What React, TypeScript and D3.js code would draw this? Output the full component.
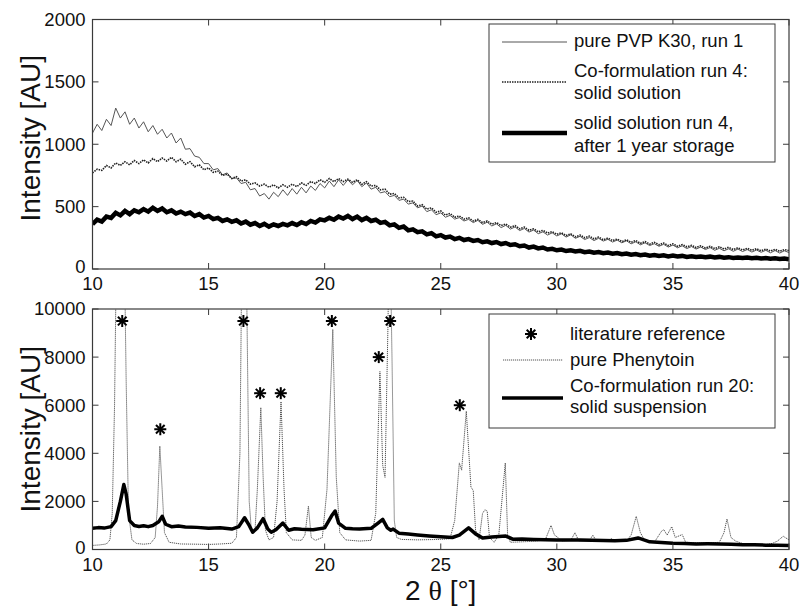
import React from "react";
import * as d3 from "d3";

// ---------- DATA ----------
// Top panel: 2θ grid 10..40 step 0.2
const topAngles: number[] = d3.range(0, 151).map((i) => 10 + i * 0.2);
const pvpK30: number[] = [
  1090, 1160, 1110, 1200, 1150, 1290, 1210, 1260, 1160, 1210,
  1130, 1180, 1100, 1150, 1080, 1120, 1050, 1090, 1010, 1050,
  960, 965, 905, 895, 845, 845, 795, 805, 755, 770,
  725, 730, 685, 695, 635, 645, 585, 605, 560, 615,
  580, 635, 590, 645, 600, 655, 610, 665, 630, 685,
  650, 705, 660, 715, 670, 715, 675, 710, 660, 690,
  640, 655, 610, 620, 580, 590, 550, 560, 520, 530,
  490, 505, 460, 475, 435, 450, 415, 430, 400, 412,
  385, 398, 372, 390, 358, 375, 345, 362, 332, 350,
  320, 337, 308, 325, 296, 312, 283, 298, 272, 290,
  265, 282, 256, 274, 246, 262, 236, 252, 228, 246,
  224, 238, 216, 232, 210, 226, 202, 218, 194, 210,
  188, 203, 182, 198, 176, 192, 170, 186, 164, 180,
  160, 176, 156, 172, 150, 166, 146, 162, 142, 160,
  140, 156, 136, 152, 134, 150, 130, 148, 128, 146,
  132,
];
const coFormRun4: number[] = [
  770, 800, 790, 830, 810, 850, 830, 860, 835, 870,
  845, 875, 850, 885, 860, 890, 865, 895, 860, 880,
  840, 860, 820, 835, 795, 810, 775, 785, 750, 760,
  725, 740, 705, 715, 680, 690, 665, 680, 655, 675,
  650, 675, 655, 680, 660, 690, 670, 700, 685, 715,
  695, 725, 700, 725, 700, 720, 695, 715, 680, 700,
  665, 670, 635, 640, 600, 605, 570, 575, 540, 545,
  505, 515, 480, 490, 455, 465, 432, 445, 415, 425,
  400, 410, 385, 398, 372, 385, 360, 372, 348, 360,
  336, 348, 322, 336, 310, 322, 298, 310, 288, 300,
  278, 290, 268, 282, 258, 272, 250, 264, 242, 256,
  234, 248, 228, 240, 220, 234, 214, 228, 206, 220,
  200, 214, 194, 208, 188, 202, 182, 196, 178, 190,
  172, 186, 168, 182, 164, 178, 160, 174, 156, 170,
  152, 166, 150, 162, 146, 160, 144, 158, 142, 156,
  148,
];
const afterStorage: number[] = [
  360, 395, 380, 420, 410, 450, 430, 465, 440, 470,
  455, 480, 460, 490, 465, 485, 455, 470, 445, 460,
  440, 452, 425, 440, 412, 425, 400, 410, 385, 398,
  378, 390, 365, 380, 355, 368, 345, 362, 340, 358,
  345, 362, 350, 368, 352, 375, 360, 385, 372, 398,
  390, 410, 395, 420, 405, 425, 400, 420, 392, 410,
  385, 395, 370, 378, 350, 358, 330, 340, 310, 318,
  295, 302, 278, 288, 262, 272, 252, 260, 240, 250,
  232, 240, 225, 232, 215, 222, 208, 216, 200, 208,
  192, 198, 182, 188, 172, 180, 165, 172, 156, 162,
  150, 156, 144, 150, 140, 146, 135, 140, 130, 136,
  126, 132, 122, 128, 118, 124, 114, 120, 110, 116,
  107, 112, 104, 110, 101, 108, 100, 105, 97, 102,
  96, 100, 94, 99, 92, 97, 91, 95, 89, 93,
  88, 92, 86, 90, 84, 88, 82, 86, 80, 84,
  78,
];

// Bottom panel
const phenytoinAngles: number[] = [
  10.0, 10.3, 10.6, 10.75, 10.85, 10.95, 11.05, 11.2, 11.35, 11.45, 11.55, 11.7, 11.9, 12.2, 12.5, 12.7,
  12.8, 12.9, 13.0, 13.1, 13.3, 13.8, 14.5, 15.0, 15.5, 16.0, 16.2, 16.35, 16.45, 16.55, 16.65, 16.75,
  16.85, 17.0, 17.1, 17.25, 17.35, 17.45, 17.6, 17.8, 17.95, 18.12, 18.25, 18.35, 18.6, 19.0, 19.15,
  19.3, 19.42, 19.6, 19.9, 20.1, 20.35, 20.5, 20.65, 20.9, 21.5, 22.0, 22.2, 22.38, 22.5, 22.6, 22.72,
  22.8, 22.9, 23.0, 23.1, 23.3, 24.0, 25.0, 25.4, 25.6, 25.8, 25.9, 26.1, 26.3, 26.4, 26.5, 26.65, 26.8,
  26.9, 27.0, 27.1, 27.3, 27.5, 27.65, 27.78, 27.88, 28.0, 28.5, 29.0, 29.5, 29.75, 29.9, 30.05, 30.2,
  30.6, 30.78, 30.95, 31.4, 31.55, 31.7, 32.2, 32.35, 32.5, 33.0, 33.2, 33.42, 33.6, 33.8, 34.2, 34.5,
  34.6, 34.75, 34.95, 35.1, 35.4, 35.55, 36.0, 36.5, 37.0, 37.2, 37.33, 37.5, 37.7, 38.0, 38.5, 39.0,
  39.3, 39.5, 39.75, 40.0,
];
const phenytoin: number[] = [
  170, 190, 230, 400, 1500, 6000, 14000, 20000, 14000, 7000, 1500, 400, 250, 220, 250, 500,
  1800, 4300, 2500, 700, 300, 230, 220, 210, 230, 260, 500, 4000, 14000, 16000, 10000, 2000,
  700, 800, 2500, 5900, 3000, 800, 400, 500, 2000, 6150, 2500, 700, 400, 380, 600,
  1800, 500, 380, 500, 2500, 9150, 3000, 700, 400, 350, 380, 1500, 7400, 3500, 3000, 9000,
  14000, 8000, 1200, 500, 420, 400, 420, 450, 1200, 3600, 3300, 5750, 2600, 2450, 800, 400, 1500,
  1650, 1600, 500, 300, 600, 2200, 3600, 600, 300, 320, 340, 400, 1000, 600, 500, 350,
  380, 700, 350, 360, 600, 350, 350, 450, 330, 350, 600, 1380, 700, 350, 300, 750,
  830, 600, 950, 500, 620, 300, 280, 270, 300, 700, 1270, 500, 350, 250, 200, 200,
  260, 350, 550, 400,
];
const suspensionAngles: number[] = [
  10.0, 10.25, 10.5, 10.8, 11.0, 11.2, 11.35, 11.45, 11.6, 11.8, 12.0, 12.2, 12.4, 12.6, 12.85, 13.0,
  13.15, 13.4, 13.7, 14.0, 14.5, 15.0, 15.5, 16.0, 16.3, 16.55, 16.75, 16.9, 17.1, 17.35, 17.55, 17.7,
  17.9, 18.2, 18.45, 18.7, 19.0, 19.5, 20.0, 20.3, 20.45, 20.6, 20.9, 21.2, 21.5, 22.0, 22.3, 22.5, 22.7,
  22.85, 22.95, 23.2, 23.6, 24.0, 24.5, 25.0, 25.5, 25.8, 26.2, 26.5, 26.8, 27.2, 27.8, 28.1, 28.5, 29.0,
  29.5, 30.0, 30.5, 31.0, 31.5, 32.0, 32.5, 33.0, 33.5, 34.0, 34.5, 35.0, 35.5, 36.0, 36.5, 37.0, 37.5,
  38.0, 38.5, 39.0, 39.5, 40.0,
];
const suspension: number[] = [
  880, 910, 890, 950, 1200, 2000, 2700, 2300, 1200, 1000, 960, 990, 950, 1000, 1150, 1380,
  1050, 950, 980, 940, 920, 880, 900, 850, 950, 1320, 1000, 720, 900, 1280, 850, 720,
  820, 1100, 800, 860, 840, 820, 900, 1400, 1600, 1100, 880, 860, 850, 880, 1100, 1250, 900,
  800, 850, 680, 640, 600, 560, 530, 500, 600, 900, 650, 480, 520, 560, 430, 440, 420,
  410, 400, 395, 390, 380, 370, 365, 380, 480, 320, 290, 260, 250, 230, 235, 230, 215,
  200, 195, 180, 175, 170,
];
const refAngles: number[] = [11.28, 12.92, 16.5, 17.22, 18.11, 20.31, 22.33, 22.82, 25.82];
const refIntensity: number[] = [9500, 5000, 9500, 6500, 6500, 9500, 8000, 9500, 6000];

const xTicks: number[] = [10, 15, 20, 25, 30, 35, 40];
const yTicksTop: number[] = [0, 500, 1000, 1500, 2000];
const yTicksBottom: number[] = [0, 2000, 4000, 6000, 8000, 10000];

const topLegend: string[][] = [
  ["pure PVP K30, run 1"],
  ["Co-formulation run 4:", "solid solution"],
  ["solid solution run 4,", "after 1 year storage"],
];
const bottomLegend: string[][] = [
  ["literature reference"],
  ["pure Phenytoin"],
  ["Co-formulation run 20:", "solid suspension"],
];

// ---------- LAYOUT ----------
const W = 804;
const H = 608;
const X0 = 92.5;
const X1 = 789;
const TOP = { y0: 19.5, y1: 269 };
const BOT = { y0: 309, y1: 549.5 };
const FONT = "Liberation Sans, Arial, sans-serif";
const AXIS_COLOR = "#3a3a3a";

const x = d3.scaleLinear().domain([10, 40]).range([X0, X1]);
const yTop = d3.scaleLinear().domain([0, 2000]).range([TOP.y1, TOP.y0]);
const yBot = d3.scaleLinear().domain([0, 10000]).range([BOT.y1, BOT.y0]);

function Axes({ y, ticks, y0, y1 }: { y: d3.ScaleLinear<number, number>; ticks: number[]; y0: number; y1: number }) {
  const tl = 6;
  return (
    <g>
      <rect x={X0} y={y0} width={X1 - X0} height={y1 - y0} fill="none" stroke={AXIS_COLOR} strokeWidth={1.2} />
      {xTicks.map((t) => (
        <g key={"x" + t}>
          <line x1={x(t)} x2={x(t)} y1={y1} y2={y1 - tl} stroke={AXIS_COLOR} strokeWidth={1} />
          <line x1={x(t)} x2={x(t)} y1={y0} y2={y0 + tl} stroke={AXIS_COLOR} strokeWidth={1} />
          <text x={x(t)} y={y1 + 21} textAnchor="middle" fontSize={18.5} fontFamily={FONT} fill="#111">
            {t}
          </text>
        </g>
      ))}
      {ticks.map((t) => (
        <g key={"y" + t}>
          <line x1={X0} x2={X0 + tl} y1={y(t)} y2={y(t)} stroke={AXIS_COLOR} strokeWidth={1} />
          <line x1={X1} x2={X1 - tl} y1={y(t)} y2={y(t)} stroke={AXIS_COLOR} strokeWidth={1} />
          <text x={X0 - 7} y={y(t) - (t === 0 ? 2 : 0)} dy="0.35em" textAnchor="end" fontSize={18.5} fontFamily={FONT} fill="#111">
            {t}
          </text>
        </g>
      ))}
    </g>
  );
}

function Asterisk({ cx, cy, r, sw }: { cx: number; cy: number; r: number; sw: number }) {
  const d = r * 0.72;
  return (
    <g stroke="#000" strokeWidth={sw}>
      <line x1={cx - r} x2={cx + r} y1={cy} y2={cy} />
      <line x1={cx} x2={cx} y1={cy - r} y2={cy + r} />
      <line x1={cx - d} x2={cx + d} y1={cy - d} y2={cy + d} />
      <line x1={cx - d} x2={cx + d} y1={cy + d} y2={cy - d} />
    </g>
  );
}

export default function App() {
  const lineTop = (vals: number[]) =>
    d3
      .line<number>()
      .x((_, i) => x(topAngles[i]))
      .y((v) => yTop(v))(vals) || "";
  const lineBot = (angles: number[], vals: number[]) =>
    d3
      .line<number>()
      .x((_, i) => x(angles[i]))
      .y((v) => yBot(v))(vals) || "";

  const legendText = (lines: string[], ty: number[]) =>
    lines.map((s, i) => (
      <text key={s} x={574} y={ty[i]} dy="0.35em" fontSize={18.5} fontFamily={FONT} fill="#111">
        {s}
      </text>
    ));

  return (
    <svg width={W} height={H} style={{ position: "absolute", left: 0, top: 0, background: "#fff" }}>
      <defs>
        <clipPath id="clipTop">
          <rect x={X0} y={TOP.y0} width={X1 - X0} height={TOP.y1 - TOP.y0} />
        </clipPath>
        <clipPath id="clipBot">
          <rect x={X0} y={BOT.y0} width={X1 - X0} height={BOT.y1 - BOT.y0} />
        </clipPath>
      </defs>
      <rect x={0} y={0} width={W} height={H} fill="#fff" />

      {/* ---------- TOP PANEL ---------- */}
      <g clipPath="url(#clipTop)">
        <path d={lineTop(pvpK30)} fill="none" stroke="#555" strokeWidth={1} />
        <path d={lineTop(coFormRun4)} fill="none" stroke="#222" strokeWidth={1.6} strokeDasharray="1.5,1" />
        <path d={lineTop(afterStorage)} fill="none" stroke="#000" strokeWidth={4.5} strokeLinejoin="miter" />
      </g>
      <Axes y={yTop} ticks={yTicksTop} y0={TOP.y0} y1={TOP.y1} />
      <text
        transform={`translate(30,${(TOP.y0 + TOP.y1) / 2 - 6}) rotate(-90)`}
        textAnchor="middle"
        dy="0.35em"
        fontSize={28}
        fontFamily={FONT}
        fill="#111"
      >
        Intensity [AU]
      </text>

      {/* top legend */}
      <rect x={489} y={24} width={286} height={138} fill="#fff" stroke={AXIS_COLOR} strokeWidth={1} />
      <line x1={502} x2={567} y1={42} y2={42} stroke="#555" strokeWidth={1} />
      <line x1={502} x2={567} y1={82} y2={82} stroke="#222" strokeWidth={1.6} strokeDasharray="1.5,1" />
      <line x1={502} x2={567} y1={133} y2={133} stroke="#000" strokeWidth={4.5} />
      {legendText(topLegend[0], [41])}
      {legendText(topLegend[1], [71, 93])}
      {legendText(topLegend[2], [123, 146])}

      {/* ---------- BOTTOM PANEL ---------- */}
      <g clipPath="url(#clipBot)">
        <path d={lineBot(phenytoinAngles, phenytoin)} fill="none" stroke="#555" strokeWidth={1} strokeDasharray="1.2,0.8" />
        <path d={lineBot(suspensionAngles, suspension)} fill="none" stroke="#000" strokeWidth={3.5} strokeLinejoin="round" />
      </g>
      {refAngles.map((a, i) => (
        <Asterisk key={"r" + i} cx={x(a)} cy={yBot(refIntensity[i])} r={6} sw={2} />
      ))}
      <Axes y={yBot} ticks={yTicksBottom} y0={BOT.y0} y1={BOT.y1} />
      <text
        transform={`translate(30,${(BOT.y0 + BOT.y1) / 2}) rotate(-90)`}
        textAnchor="middle"
        dy="0.35em"
        fontSize={28}
        fontFamily={FONT}
        fill="#111"
      >
        Intensity [AU]
      </text>
      <text x={(X0 + X1) / 2} y={590} dy="0.35em" textAnchor="middle" fontSize={28} fontFamily={FONT} fill="#111">
        2 <tspan fontFamily="Liberation Serif, DejaVu Serif, serif">θ</tspan> [°]
      </text>

      {/* bottom legend */}
      <rect x={489} y={314} width={286} height={114} fill="#fff" stroke={AXIS_COLOR} strokeWidth={1} />
      <Asterisk cx={531} cy={334} r={6} sw={2} />
      <line x1={503} x2={563} y1={360} y2={360} stroke="#555" strokeWidth={1} strokeDasharray="1.2,0.8" />
      <line x1={502} x2={563} y1={398} y2={398} stroke="#000" strokeWidth={3.5} />
      {bottomLegend[0].map((s) => (
        <text key={s} x={570} y={334} dy="0.35em" fontSize={18.5} fontFamily={FONT} fill="#111">{s}</text>
      ))}
      {bottomLegend[1].map((s) => (
        <text key={s} x={570} y={360} dy="0.35em" fontSize={18.5} fontFamily={FONT} fill="#111">{s}</text>
      ))}
      {bottomLegend[2].map((s, i) => (
        <text key={s} x={570} y={386 + i * 21} dy="0.35em" fontSize={18.5} fontFamily={FONT} fill="#111">{s}</text>
      ))}
    </svg>
  );
}
